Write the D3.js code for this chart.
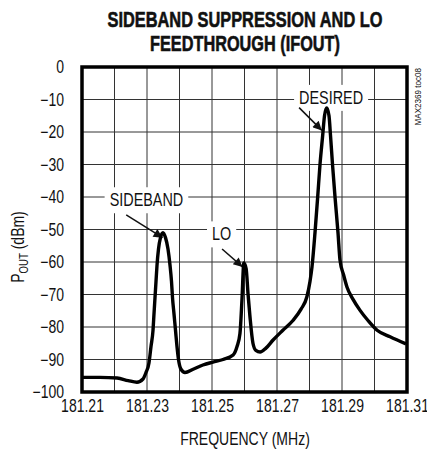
<!DOCTYPE html>
<html><head><meta charset="utf-8">
<script src="https://cdn.jsdelivr.net/npm/d3@7"></script>
<style>
body{margin:0;background:#fff;}
svg text{font-family:"Liberation Sans",Arial,sans-serif;fill:#111;}
</style></head><body>
<svg id="c" width="427" height="450"></svg>
<script>
const freq = [181.2100,181.2155,181.2208,181.2242,181.2269,181.22877,181.22969,181.23062,181.23123,181.23185,181.23215,181.23246,181.23277,181.23308,181.23354,181.23415,181.23492,181.23569,181.23646,181.23708,181.23754,181.23785,181.23831,181.23877,181.23923,181.23969,181.24046,181.24169,181.2442,181.2472,181.2503,181.2534,181.2565,181.2577,181.2586,181.2592,181.2598,181.2605,181.2611,181.2617,181.2626,181.2635,181.2648,181.2666,181.2688,181.2718,181.2749,181.2774,181.2792,181.28015,181.28077,181.28169,181.28252,181.28323,181.28406,181.28462,181.28529,181.28600,181.28646,181.28708,181.28785,181.28877,181.28938,181.2905,181.2915,181.2934,181.2955,181.2980,181.3008,181.3048,181.3097];
const pout = [-95.5,-95.5,-95.7,-96.5,-97.0,-96,-94,-91,-86,-81,-76,-71,-66,-61,-56,-52.5,-51,-52.5,-56,-61,-66,-71,-76,-81,-86,-90,-93,-94,-93,-91.7,-90.8,-90,-88.6,-86,-82,-72,-60.3,-62,-70,-77,-85,-87.2,-87.7,-86.5,-84,-81,-78,-74.5,-70.7,-66,-61.5,-51,-40,-30,-21,-15,-12.6,-15,-21,-30,-40,-51,-59.4,-64,-67.6,-71.5,-74.8,-78,-81,-83,-85.2];
const xTicks = [181.21,181.23,181.25,181.27,181.29,181.31];
const xGrid = [181.21,181.22,181.23,181.24,181.25,181.26,181.27,181.28,181.29,181.30,181.31];
const yTicks = [0,-10,-20,-30,-40,-50,-60,-70,-80,-90,-100];
const labels = ["SIDEBAND","LO","DESIRED"];
const labelPos = [[181.2185,-41],[181.2500,-51.5],[181.2768,-9.5]];
const arrowFrom = [[181.2236,-45.5],[181.2531,-56],[181.2768,-12.5]];
const arrowTo = [[181.2348,-52.5],[181.2594,-61.5],[181.2838,-19.5]];

const K = 0.8; // condensed text factor
function narrow(sel,k){
  sel.each(function(){
    const w=this.getComputedTextLength();
    d3.select(this).attr("textLength",w*(k||K)).attr("lengthAdjust","spacingAndGlyphs");
  });
  return sel;
}

const svg = d3.select("#c");
const L=82,T=67,R=407,B=392;
const x = d3.scaleLinear().domain([181.21,181.31]).range([L,R]);
const y = d3.scaleLinear().domain([-100,0]).range([B,T]);

// grid
svg.append("g").selectAll("line").data(xGrid).join("line")
  .attr("x1",d=>x(d)).attr("x2",d=>x(d)).attr("y1",T).attr("y2",B)
  .attr("stroke","#333").attr("stroke-width",1);
svg.append("g").selectAll("line").data(yTicks).join("line")
  .attr("x1",L).attr("x2",R).attr("y1",d=>y(d)).attr("y2",d=>y(d))
  .attr("stroke","#333").attr("stroke-width",1);

// labels with white backgrounds
const lab = svg.append("g");
labels.forEach((t,i)=>{
  const tx = lab.append("text").attr("x",x(labelPos[i][0])).attr("y",y(labelPos[i][1]))
    .attr("font-size",18).attr("dominant-baseline","central").text(t);
  narrow(tx);
  const bb = tx.node().getBBox();
  const w = tx.node().getComputedTextLength();
  lab.insert("rect","text").attr("x",x(labelPos[i][0])-5).attr("y",bb.y-3).attr("width",w+10).attr("height",bb.height+6).attr("fill","#fff");
});

// arrows
svg.append("defs").append("marker").attr("id","ah").attr("viewBox","0 0 10 10")
  .attr("refX",10).attr("refY",5).attr("orient","auto")
  .attr("markerUnits","userSpaceOnUse").attr("markerWidth",13).attr("markerHeight",9)
  .append("path").attr("d","M0,0L10,5L0,10z").attr("fill","#111");
arrowFrom.forEach((a,i)=>{
  svg.append("line").attr("x1",x(a[0])).attr("y1",y(a[1])).attr("x2",x(arrowTo[i][0])).attr("y2",y(arrowTo[i][1]))
    .attr("stroke","#111").attr("stroke-width",1.5).attr("marker-end","url(#ah)");
});

// curve
const data = freq.map((f,i)=>[f,pout[i]]);
svg.append("path").datum(data)
  .attr("d",d3.line().x(d=>x(d[0])).y(d=>y(d[1])).curve(d3.curveMonotoneX))
  .attr("fill","none").attr("stroke","#000").attr("stroke-width",3.4).attr("stroke-linejoin","round");

// frame
svg.append("rect").attr("x",L).attr("y",T).attr("width",R-L).attr("height",B-T)
  .attr("fill","none").attr("stroke","#000").attr("stroke-width",3.5);

// axes labels
const yAxis = d3.axisLeft(y).tickValues(yTicks).tickSize(0).tickPadding(18).tickFormat(d3.format("d"));
const ga = svg.append("g").attr("transform",`translate(${L},0)`).call(yAxis);
ga.select(".domain").remove();
narrow(ga.selectAll("text").attr("font-size",17.5).attr("font-family",null).attr("fill","#111"));
const xAxis = d3.axisBottom(x).tickValues(xTicks).tickSize(0).tickPadding(8).tickFormat(d3.format(".2f"));
const gx = svg.append("g").attr("transform",`translate(0,${B})`).call(xAxis);
gx.select(".domain").remove();
narrow(gx.selectAll("text").attr("font-size",17.5).attr("font-family",null).attr("fill","#111"));

// titles
svg.append("text").attr("x",245).attr("y",27).attr("text-anchor","middle").attr("font-size",22.5)
  .attr("font-weight","bold").attr("stroke","#111").attr("stroke-width",0.6)
  .attr("textLength",275).attr("lengthAdjust","spacingAndGlyphs").text("SIDEBAND SUPPRESSION AND LO");
svg.append("text").attr("x",245).attr("y",51).attr("text-anchor","middle").attr("font-size",22.5)
  .attr("font-weight","bold").attr("stroke","#111").attr("stroke-width",0.6)
  .attr("textLength",190).attr("lengthAdjust","spacingAndGlyphs").text("FEEDTHROUGH (IFOUT)");
narrow(svg.append("text").attr("x",245).attr("y",445).attr("text-anchor","middle").attr("font-size",17.5).text("FREQUENCY (MHz)"));
const yt = svg.append("text").attr("transform",`translate(24,247) rotate(-90) scale(${K},1)`).attr("text-anchor","middle").attr("font-size",17.5);
yt.append("tspan").text("P");
yt.append("tspan").attr("font-size",12).attr("dy",4).text("OUT");
yt.append("tspan").attr("dy",-4).text(" (dBm)");
narrow(svg.append("text").attr("transform","translate(421,68) rotate(-90)").attr("text-anchor","end").attr("font-size",9.5).text("MAX2369 toc08"),0.85);
</script></body></html>
